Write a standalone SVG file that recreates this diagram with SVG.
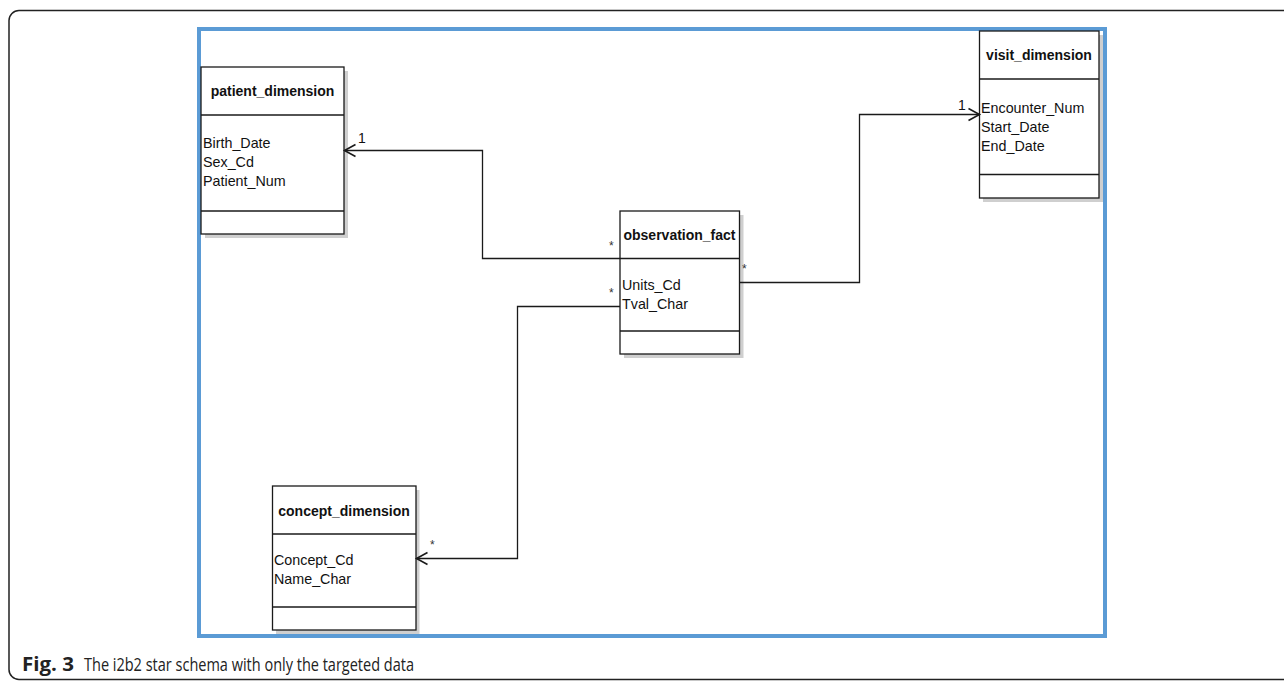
<svg xmlns="http://www.w3.org/2000/svg" width="1284" height="681" viewBox="0 0 1284 681">
<style>
.shadow{fill:#cfcfcf;stroke:none}
.box{fill:#fff;stroke:#1a1a1a;stroke-width:1.3}
.div{stroke:#1a1a1a;stroke-width:1.3}
.title{font-family:"Liberation Sans",Arial,sans-serif;font-size:14px;font-weight:bold;fill:#111;text-anchor:middle}
.attr{font-family:"Liberation Sans",Arial,sans-serif;font-size:14.3px;fill:#111}
.mult{font-family:"Liberation Sans",Arial,sans-serif;font-size:14px;fill:#111}
.star{font-family:"Liberation Sans",Arial,sans-serif;font-size:12px;fill:#333}
.conn{fill:none;stroke:#1a1a1a;stroke-width:1.3;marker-end:url(#open)}
</style>
<defs>
<marker id="open" markerUnits="userSpaceOnUse" viewBox="-13 -8 15 16" markerWidth="15" markerHeight="16" refX="0" refY="0" orient="auto" overflow="visible">
<path d="M-11,-6 L0,0 L-11,6" fill="none" stroke="#1a1a1a" stroke-width="1.6"/>
</marker>
</defs>
<rect x="9" y="10.5" width="1300" height="669" rx="10" ry="10" fill="#fff" stroke="#222" stroke-width="1.5"/>
<rect x="199" y="29" width="906" height="607" fill="#fff" stroke="#5b9bd5" stroke-width="4"/>

<g id="patient_dimension">
<rect class="shadow" x="205" y="71" width="143" height="167"/>
<rect class="box" x="201" y="67" width="143" height="167"/>
<line class="div" x1="201" y1="115" x2="344" y2="115"/>
<line class="div" x1="201" y1="211" x2="344" y2="211"/>
<text class="title" x="272.5" y="96">patient_dimension</text>
<text class="attr" x="203" y="148">Birth_Date</text>
<text class="attr" x="203" y="167">Sex_Cd</text>
<text class="attr" x="203" y="186">Patient_Num</text>
</g>

<g id="visit_dimension">
<rect class="shadow" x="983" y="35" width="120" height="167"/>
<rect class="box" x="979.5" y="31" width="119.5" height="167"/>
<line class="div" x1="979.5" y1="79" x2="1099" y2="79"/>
<line class="div" x1="979.5" y1="174.5" x2="1099" y2="174.5"/>
<text class="title" x="1039" y="60">visit_dimension</text>
<text class="attr" x="981" y="112.5">Encounter_Num</text>
<text class="attr" x="981" y="131.5">Start_Date</text>
<text class="attr" x="981" y="150.5">End_Date</text>
</g>

<g id="observation_fact">
<rect class="shadow" x="624" y="215" width="119.5" height="143"/>
<rect class="box" x="620" y="211" width="119.5" height="143"/>
<line class="div" x1="620" y1="258.5" x2="739.5" y2="258.5"/>
<line class="div" x1="620" y1="331" x2="739.5" y2="331"/>
<text class="title" x="679.5" y="240">observation_fact</text>
<text class="attr" x="622" y="290">Units_Cd</text>
<text class="attr" x="622" y="309">Tval_Char</text>
</g>

<g id="concept_dimension">
<rect class="shadow" x="276" y="490" width="143.5" height="144"/>
<rect class="box" x="272.5" y="486" width="143.5" height="144"/>
<line class="div" x1="272.5" y1="534" x2="416" y2="534"/>
<line class="div" x1="272.5" y1="607" x2="416" y2="607"/>
<text class="title" x="344" y="516">concept_dimension</text>
<text class="attr" x="274" y="565">Concept_Cd</text>
<text class="attr" x="274" y="584">Name_Char</text>
</g>

<g id="connectors">
<path class="conn" d="M620,258.5 H482.5 V150.5 H344.5"/>
<path class="conn" d="M739.5,282.5 H859.5 V114.5 H979.5"/>
<path class="conn" d="M620,306.5 H517.5 V558.5 H416.5"/>
<text class="mult" x="358" y="143">1</text>
<text class="mult" x="958" y="110">1</text>
<text class="star" x="609" y="250">*</text>
<text class="star" x="609" y="297">*</text>
<text class="star" x="742" y="273">*</text>
<text class="star" x="430" y="549">*</text>
</g>

<text x="22" y="671" font-family="'Open Sans','DejaVu Sans',sans-serif" font-size="19" fill="#222"><tspan font-weight="bold" textLength="52" lengthAdjust="spacingAndGlyphs">Fig. 3</tspan><tspan x="84" textLength="330" lengthAdjust="spacingAndGlyphs">The i2b2 star schema with only the targeted data</tspan></text>
</svg>
